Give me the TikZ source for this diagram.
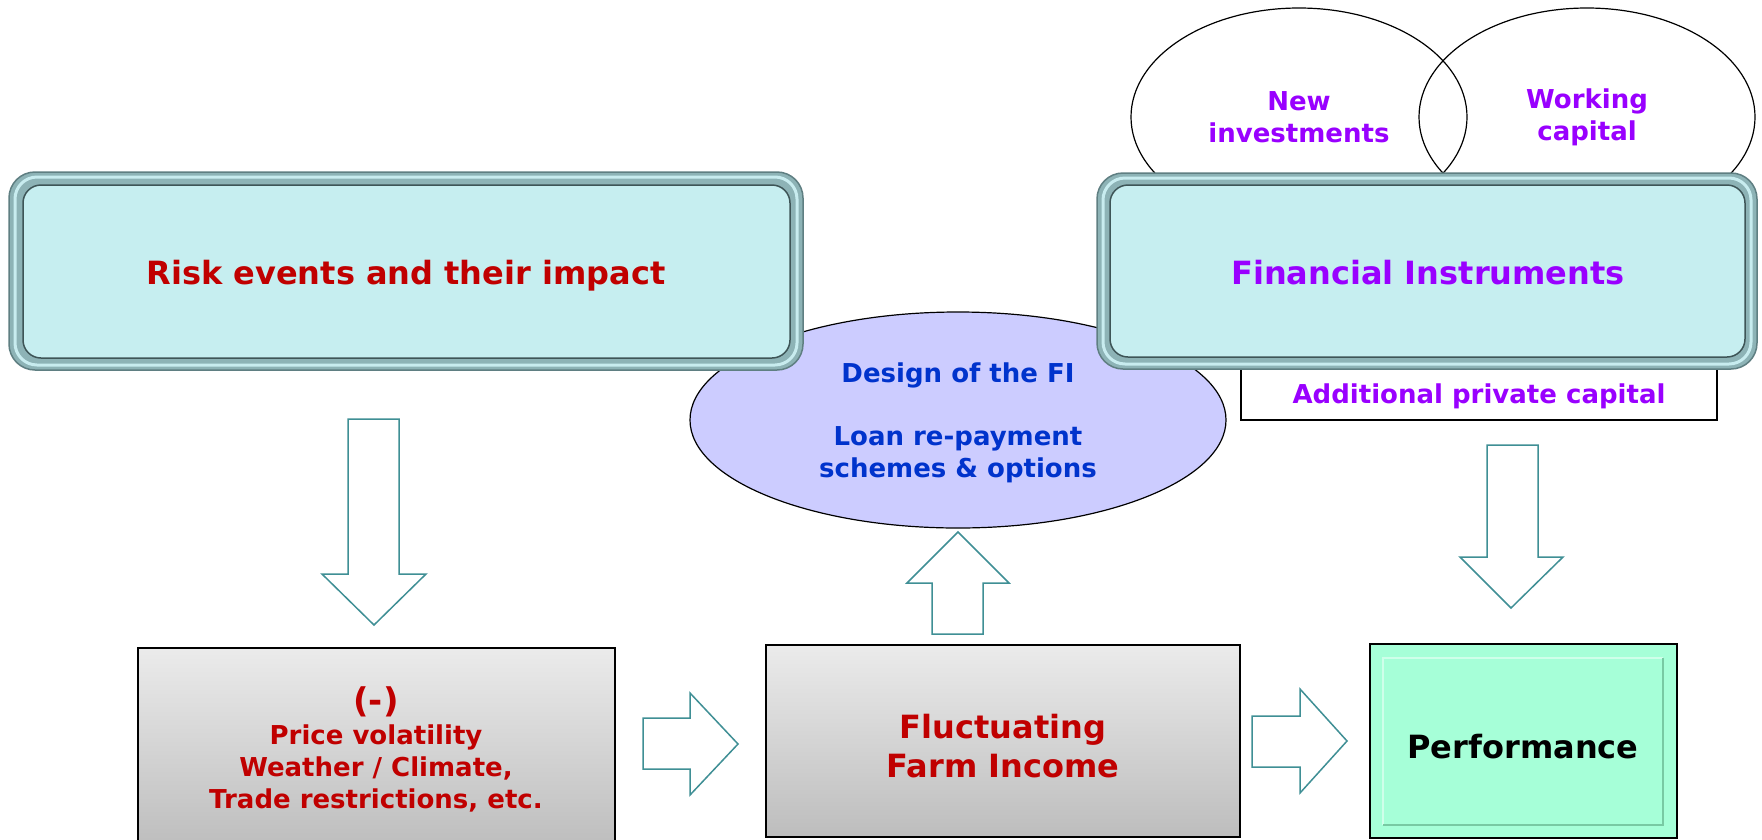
\documentclass[tikz,border=0pt]{standalone}
\usepackage{fontspec}
\setmainfont{DejaVu Sans}
\usetikzlibrary{shapes.geometric}

\definecolor{riskred}{HTML}{C00000}
\definecolor{fipurple}{HTML}{9900FF}
\definecolor{designblue}{HTML}{0033CC}
\definecolor{arrowteal}{HTML}{3F8F95}
\definecolor{panelcyan}{HTML}{C6EEF0}
\definecolor{bevelmid}{HTML}{8DB3B6}
\definecolor{bevellight}{HTML}{C8ECEF}
\definecolor{beveledge}{HTML}{5F7F82}
\definecolor{beveldark}{HTML}{3E5557}
\definecolor{designfill}{HTML}{CCCCFF}
\definecolor{mintfill}{HTML}{A6FFD8}
\definecolor{mintlight}{HTML}{CFFFEA}
\definecolor{mintdark}{HTML}{78C9A3}
\definecolor{boxtop}{HTML}{EBEBEB}
\definecolor{boxbottom}{HTML}{BDBDBD}

\tikzset{
  bevelouter/.style={rounded corners=26pt, fill=bevelmid, draw=beveledge, line width=1.5pt},
  bevelband/.style={rounded corners=22pt, draw=bevellight, line width=3pt},
  bevelinner/.style={rounded corners=18pt, fill=panelcyan, draw=beveldark, line width=1.5pt},
  headtext/.style={align=center, text depth=0pt, font=\bfseries\fontsize{32}{39}\selectfont},
  bubble/.style={ellipse, draw, line width=1.2pt, align=center, text=fipurple,
    font=\bfseries\fontsize{26}{32}\selectfont},
  graybox/.style={rectangle, draw=black, line width=2pt, top color=boxtop, bottom color=boxbottom},
  blockarrow/.style={draw=arrowteal, line width=1.5pt, fill=white, line join=miter}
}

\begin{document}
\begin{tikzpicture}[x=1pt,y=-1pt]
  % Hintergrund
  \fill[white] (0,0) rectangle (1762,839);
  \useasboundingbox (0,0) rectangle (1762,839);

  % Ellipsen ueber den Finanzinstrumenten
  \node[bubble, minimum width=336, minimum height=218] (newinv) at (1299,117) {New\\investments};
  \node[bubble, minimum width=336, minimum height=218] (workcap) at (1587,117) {Working\\capital};

  % Kasten unter den Finanzinstrumenten
  \node[draw, line width=1.2pt, fill=white, minimum width=476, minimum height=52, text=fipurple,
    text depth=0pt, font=\bfseries\fontsize{26}{32}\selectfont] (private) at (1479,394) {Additional private capital};

  % Ellipse: Ausgestaltung
  \node[ellipse, draw, line width=1.2pt, fill=designfill, minimum width=536, minimum height=216,
    align=center, text=designblue, text depth=0pt, font=\bfseries\fontsize{26}{31.5}\selectfont] (design) at (958,420)
    {Design of the FI\\[31.5pt]Loan re-payment\\schemes \& options};

  % Rahmen: Risiken
  \draw[bevelouter] (9,172) rectangle (803,370);
  \draw[bevelband] (15,177) rectangle (797,365);
  \draw[bevelinner] (23,185) rectangle (790,358);
  \node[headtext, text=riskred] (risk) at (406,272) {Risk events and their impact};

  % Rahmen: Finanzinstrumente
  \draw[bevelouter] (1097,173) rectangle (1757,369);
  \draw[bevelband] (1103,178) rectangle (1751,364);
  \draw[bevelinner] (1110,185) rectangle (1745,357);
  \node[headtext, text=fipurple] (fi) at (1428,272) {Financial Instruments};

  % Blockpfeile
  \draw[blockarrow] (348,419) -- (399,419) -- (399,574) -- (426,574) -- (374,625) -- (322,574) -- (348,574) -- cycle;
  \draw[blockarrow] (932,634) -- (983,634) -- (983,583) -- (1009,583) -- (958,532) -- (907,583) -- (932,583) -- cycle;
  \draw[blockarrow] (1487,445) -- (1538,445) -- (1538,557) -- (1563,557) -- (1511,608) -- (1460,557) -- (1487,557) -- cycle;
  \draw[blockarrow] (643,718) -- (690,718) -- (690,693) -- (738,744) -- (690,795) -- (690,769) -- (643,769) -- cycle;
  \draw[blockarrow] (1252,716) -- (1300,716) -- (1300,689) -- (1347,741) -- (1300,793) -- (1300,767) -- (1252,767) -- cycle;

  % Untere Kaesten
  \node[graybox, minimum width=477, minimum height=200] (effectsbox) at (376,748) {};
  \node[headtext, text=riskred, font=\bfseries\fontsize{26}{32}\selectfont] (effects) at (376,748)
    {{\fontsize{34}{32}\selectfont (-)}\\Price volatility\\Weather / Climate,\\Trade restrictions, etc.};
  \node[graybox, minimum width=474, minimum height=192] (incomebox) at (1003,741) {};
  \node[headtext, text=riskred] (income) at (1003,746) {Fluctuating\\Farm Income};

  % Ergebnis
  \node[draw=black, line width=2pt, fill=mintfill, minimum width=307, minimum height=194] (perfbox) at (1523,741) {};
  \draw[mintlight, line width=1.5pt] (1383,825) -- (1383,658) -- (1663,658);
  \draw[mintdark, line width=1.5pt] (1663,658) -- (1663,825) -- (1383,825);
  \node[headtext] (perf) at (1523,746) {Performance};
\end{tikzpicture}
\end{document}
